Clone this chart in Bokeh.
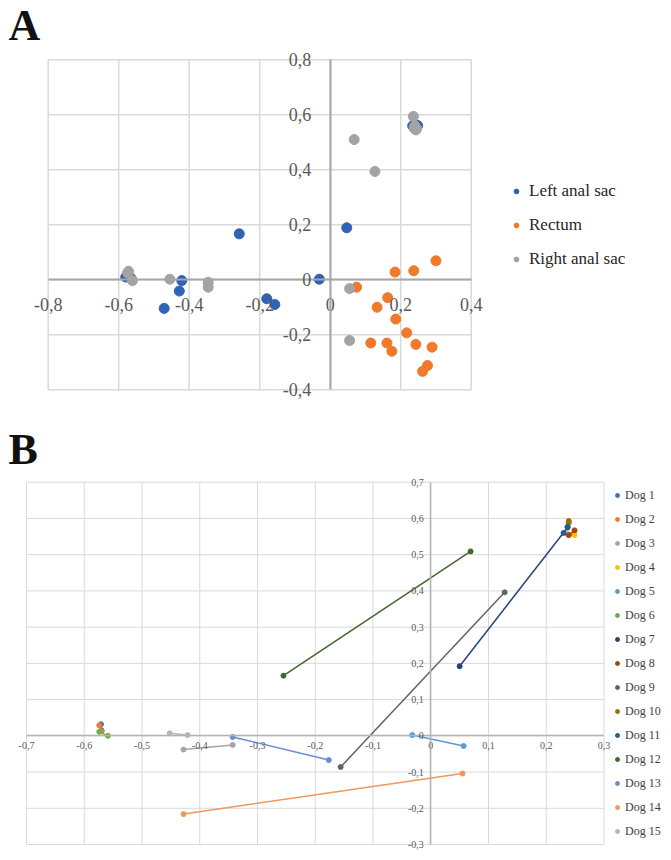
from bokeh.plotting import figure
from bokeh.models import Range1d, FixedTicker, CustomJSTickFormatter, Legend, LegendItem, Label
from bokeh.layouts import column
from bokeh.embed import file_html
from bokeh.resources import INLINE

# ---------------- Panel A data ----------------
left_x = [-0.580, -0.575, -0.565, -0.421, -0.428, -0.471, -0.258, -0.180, -0.157, -0.031, 0.047, 0.234, 0.248, 0.240, 0.245]
left_y = [0.010, 0.015, 0.005, -0.003, -0.041, -0.104, 0.167, -0.069, -0.090, 0.002, 0.189, 0.560, 0.561, 0.550, 0.555]
rectum_x = [0.075, 0.184, 0.237, 0.300, 0.163, 0.133, 0.186, 0.217, 0.115, 0.161, 0.175, 0.243, 0.289, 0.276, 0.262]
rectum_y = [-0.027, 0.028, 0.033, 0.069, -0.065, -0.100, -0.143, -0.193, -0.230, -0.230, -0.260, -0.235, -0.245, -0.312, -0.333]
right_x = [-0.572, -0.575, -0.561, -0.455, -0.346, -0.346, 0.068, 0.127, 0.055, 0.055, 0.236, 0.240, 0.245, 0.243, 0.238]
right_y = [0.031, 0.025, -0.003, 0.002, -0.009, -0.027, 0.510, 0.394, -0.032, -0.221, 0.594, 0.560, 0.550, 0.545, 0.552]
series_a = ["Left anal sac", "Rectum", "Right anal sac"]
a_xticks = [-0.8, -0.6, -0.4, -0.2, 0.0, 0.2, 0.4]
a_yticks = [-0.4, -0.2, 0.0, 0.2, 0.4, 0.6, 0.8]

# ---------------- Panel B data ----------------
dog_names = ["Dog %d" % i for i in range(1, 16)]
dog_left_x = [-0.571, -0.574, -0.428, 0.236, -0.032, -0.574, 0.050, 0.249, -0.156, 0.239, 0.237, -0.255, -0.343, -0.428, -0.452]
dog_left_y = [0.032, 0.029, -0.038, 0.558, 0.002, 0.011, 0.192, 0.567, -0.086, 0.593, 0.577, 0.166, -0.003, -0.216, 0.007]
dog_right_x = [-0.570, -0.570, -0.343, 0.249, 0.057, -0.559, 0.237, 0.239, 0.128, 0.239, 0.230, 0.069, -0.1765, 0.055, -0.421]
dog_right_y = [0.015, 0.012, -0.025, 0.554, -0.028, 0.000, 0.575, 0.554, 0.396, 0.588, 0.560, 0.509, -0.067, -0.104, 0.002]
b_xticks = [-0.7, -0.6, -0.5, -0.4, -0.3, -0.2, -0.1, 0.0, 0.1, 0.2, 0.3]
b_yticks = [-0.3, -0.2, -0.1, 0.0, 0.1, 0.2, 0.3, 0.4, 0.5, 0.6, 0.7]

# ---------------- styles ----------------
colors_a = ["#2f63b6", "#f07a2a", "#a3a3a3"]
dog_colors = ["#4472C4", "#ED7D31", "#A5A5A5", "#FFC000", "#5B9BD5", "#70AD47",
              "#264478", "#9E480E", "#636363", "#997300", "#255E91", "#43682B",
              "#698ED0", "#F1975A", "#B7B7B7"]
SERIF = "Liberation Serif"
fmt_code = """
if (Math.abs(tick) < 1e-9) { return "0"; }
return tick.toFixed(1).replace(".", ",");
"""


def style_axes(p, xticks, yticks, font_size, color, grid_w, axis_w, axis_color, xs, ys):
    xmin, xmax = min(xticks), max(xticks)
    ymin, ymax = min(yticks), max(yticks)
    # bounded grid box drawn from the tick lists
    p.segment(x0=xticks, y0=[ymin] * len(xticks), x1=xticks, y1=[ymax] * len(xticks),
              line_color="#d9d9d9", line_width=grid_w)
    p.segment(x0=[xmin] * len(yticks), y0=yticks, x1=[xmax] * len(yticks), y1=yticks,
              line_color="#d9d9d9", line_width=grid_w)
    p.xgrid.visible = False
    p.ygrid.visible = False
    p.xaxis.ticker = FixedTicker(ticks=xticks)
    p.yaxis.ticker = FixedTicker(ticks=yticks)
    p.xaxis.bounds = (xmin, xmax)
    p.yaxis.bounds = (ymin, ymax)
    for ax in (p.xaxis[0], p.yaxis[0]):
        ax.fixed_location = 0
        ax.formatter = CustomJSTickFormatter(code=fmt_code)
        ax.major_tick_line_color = None
        ax.minor_tick_line_color = None
        ax.major_tick_out = 0
        ax.major_tick_in = 0
        ax.minor_tick_out = 0
        ax.minor_tick_in = 0
        ax.axis_line_color = axis_color
        ax.axis_line_width = axis_w
        ax.major_label_text_font = SERIF
        ax.major_label_text_font_size = font_size
        ax.major_label_text_color = color
    p.xaxis.major_label_standoff = xs
    p.yaxis.major_label_standoff = ys
    p.outline_line_color = None
    p.min_border = 0
    p.min_border_left = 0
    p.min_border_right = 0
    p.min_border_top = 0
    p.min_border_bottom = 0


# ---------------- Panel A ----------------
pa = figure(width=671, height=420, output_backend="svg", toolbar_location=None,
            x_range=Range1d(-0.9353, 0.9682), y_range=Range1d(-0.5117, 1.0156))
style_axes(pa, a_xticks, a_yticks, "18px", "#595959", 1.5, 2, "#a6a6a6", 18, 19)
pa.add_layout(Label(x=8, y=395, x_units="screen", y_units="screen", text="A",
                    text_font=SERIF, text_font_size="44px", text_font_style="bold",
                    text_color="#111111", text_baseline="alphabetic", text_align="left"))

items_a = []
for name, xs_, ys_, c in zip(series_a, [left_x, rectum_x, right_x], [left_y, rectum_y, right_y], colors_a):
    r = pa.scatter(xs_, ys_, marker="circle", size=10, fill_color=c, line_color=c)
    items_a.append(LegendItem(label=name, renderers=[r]))

leg_a = Legend(items=items_a, location=(510, 151), margin=0, padding=0,
               glyph_width=12, glyph_height=20, label_height=20, spacing=14, label_standoff=7,
               label_text_font=SERIF, label_text_font_size="17px", label_text_color="#262626",
               border_line_color=None, background_fill_alpha=0)
pa.add_layout(leg_a)

# ---------------- Panel B ----------------
pb = figure(width=671, height=438, output_backend="svg", toolbar_location=None,
            x_range=Range1d(-0.745, 0.4169), y_range=Range1d(-0.3386, 0.8703))
style_axes(pb, b_xticks, b_yticks, "10px", "#595959", 1, 1.5, "#b3b3b3", 6, 7)
pb.add_layout(Label(x=8, y=409, x_units="screen", y_units="screen", text="B",
                    text_font=SERIF, text_font_size="44px", text_font_style="bold",
                    text_color="#111111", text_baseline="alphabetic", text_align="left"))

items_b = []
for i, name in enumerate(dog_names):
    xs_ = [dog_left_x[i], dog_right_x[i]]
    ys_ = [dog_left_y[i], dog_right_y[i]]
    pb.line(xs_, ys_, line_color=dog_colors[i], line_width=1.5)
    r = pb.scatter(xs_, ys_, marker="circle", size=5, fill_color=dog_colors[i], line_color=dog_colors[i])
    items_b.append(LegendItem(label=name, renderers=[r]))

leg_b = Legend(items=items_b, location=(612, 19), margin=0, padding=0,
               glyph_width=10, glyph_height=16, label_height=16, spacing=8, label_standoff=3,
               label_text_font=SERIF, label_text_font_size="12px", label_text_color="#404040",
               border_line_color=None, background_fill_alpha=0)
pb.add_layout(leg_b)

layout = column(pa, pb, spacing=0)
open("out.html", "w").write(file_html(layout, INLINE))
